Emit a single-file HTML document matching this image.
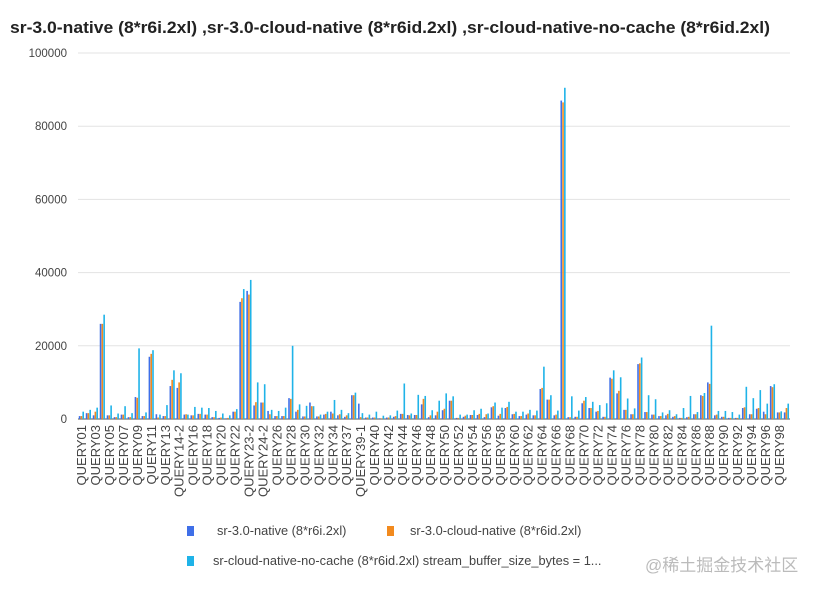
<!DOCTYPE html>
<html><head><meta charset="utf-8">
<style>
html,body{margin:0;padding:0;background:#fff;}
body{width:815px;height:592px;overflow:hidden;font-family:"Liberation Sans","Noto Sans CJK SC",sans-serif;}
</style></head>
<body>
<svg id="chart" width="815" height="592" xmlns="http://www.w3.org/2000/svg" font-family="Liberation Sans, Noto Sans CJK SC, sans-serif">
<text x="10" y="33" font-size="16.5" font-weight="bold" fill="#222" textLength="760" lengthAdjust="spacingAndGlyphs">sr-3.0-native (8*r6i.2xl) ,sr-3.0-cloud-native (8*r6id.2xl) ,sr-cloud-native-no-cache (8*r6id.2xl)</text>
<g id="grid"></g><g id="bars"></g><g id="xlabels"></g>
<g>
<rect x="187" y="526" width="7" height="10" fill="#3f6fe8"/>
<text x="217" y="535" font-size="12.8" fill="#444">sr-3.0-native (8*r6i.2xl)</text>
<rect x="387" y="526" width="7" height="10" fill="#f28a1e"/>
<text x="410" y="535" font-size="12.8" fill="#444">sr-3.0-cloud-native (8*r6id.2xl)</text>
<rect x="187" y="556" width="7" height="10" fill="#1fb3e8"/>
<text x="213" y="565" font-size="12.8" fill="#444">sr-cloud-native-no-cache (8*r6id.2xl) stream_buffer_size_bytes = 1...</text>
</g>
<text x="645" y="571" font-size="17" fill="#bbb">@稀土掘金技术社区</text>
</svg>
<script>
const categories=["QUERY01","QUERY02","QUERY03","QUERY04","QUERY05","QUERY06","QUERY07","QUERY08","QUERY09","QUERY10","QUERY11","QUERY12","QUERY13","QUERY14-1","QUERY14-2","QUERY15","QUERY16","QUERY17","QUERY18","QUERY19","QUERY20","QUERY21","QUERY22","QUERY23-1","QUERY23-2","QUERY24-1","QUERY24-2","QUERY25","QUERY26","QUERY27","QUERY28","QUERY29","QUERY30","QUERY31","QUERY32","QUERY33","QUERY34","QUERY36","QUERY37","QUERY38","QUERY39-1","QUERY39-2","QUERY40","QUERY41","QUERY42","QUERY43","QUERY44","QUERY45","QUERY46","QUERY47","QUERY48","QUERY49","QUERY50","QUERY51","QUERY52","QUERY53","QUERY54","QUERY55","QUERY56","QUERY57","QUERY58","QUERY59","QUERY60","QUERY61","QUERY62","QUERY63","QUERY64","QUERY65","QUERY66","QUERY67","QUERY68","QUERY69","QUERY70","QUERY71","QUERY72","QUERY73","QUERY74","QUERY75","QUERY76","QUERY77","QUERY78","QUERY79","QUERY80","QUERY81","QUERY82","QUERY83","QUERY84","QUERY85","QUERY86","QUERY87","QUERY88","QUERY89","QUERY90","QUERY91","QUERY92","QUERY93","QUERY94","QUERY95","QUERY96","QUERY97","QUERY98","QUERY99"];
const nativeVals=[800,1600,1000,26000,1000,500,1200,500,6000,800,17000,1300,800,9000,8500,1200,1000,1400,1200,500,300,200,2000,32000,35000,3700,4500,2200,800,800,5700,2000,700,4500,700,1200,2000,1000,600,6500,4200,400,400,200,400,600,1400,1100,1100,4000,500,1000,2400,5000,300,600,1100,1100,500,3200,900,3000,1300,800,1200,1000,8200,5300,1000,87000,500,600,4300,3000,2000,600,11300,7000,2500,1300,15000,1900,1200,800,1000,600,300,500,1300,6500,10000,1000,600,300,300,3000,1300,2800,2000,9000,1800,1800];
const cloudVals=[800,1600,2000,26000,1000,500,1200,500,5800,800,17800,400,800,10700,10000,1300,1000,1400,1200,500,400,300,2000,33000,34000,4600,4500,1300,800,800,5500,2500,700,3500,700,1400,1500,1300,1000,6500,500,400,400,200,400,800,1400,1000,1100,5500,1000,2000,2800,5000,300,900,1100,1400,1300,3500,1400,3300,1400,800,1500,1000,8500,5300,1200,86500,500,600,5000,3000,2200,600,11000,7700,2500,1300,15200,1900,1200,800,1400,800,300,600,1300,6300,9600,1200,600,300,300,3200,1300,3000,1300,8700,1800,3000];
const noCacheVals=[2000,2500,3100,28500,3700,1500,3500,1600,19300,1800,18800,1200,3800,13300,12500,1200,3300,3100,3000,2200,1500,1000,2700,35500,38000,10000,9500,2500,2200,3100,20000,4000,3600,3500,1200,2000,5200,2500,1600,7200,1600,1200,2000,900,1000,2300,9700,1500,6600,6300,2400,5000,7000,6200,1200,1200,2400,2800,1500,4500,3100,4700,2000,2000,2500,2300,14300,6500,2300,90500,6200,2300,6000,4700,3800,4300,13300,11400,5600,2900,16800,6500,5400,1800,2400,1300,3000,6300,1900,7100,25500,2200,2200,1900,1200,8800,5700,7900,4200,9500,2100,4200];
const yTicks=[0,20000,40000,60000,80000,100000];
const NS="http://www.w3.org/2000/svg";
const x0=78,x1=790,y0=419,yTop=53,yMax=100000;
const bw=(x1-x0)/categories.length;
function xScale(i){return x0+i*bw;}
function yScale(v){return y0-(v/yMax)*(y0-yTop);}
const grid=document.getElementById('grid');
yTicks.forEach(t=>{
  const l=document.createElementNS(NS,'line');
  l.setAttribute('x1',x0);l.setAttribute('x2',x1);
  l.setAttribute('y1',yScale(t));l.setAttribute('y2',yScale(t));
  l.setAttribute('stroke',t===0?'#555':'#e3e3e3');l.setAttribute('stroke-width','1');
  
  
  grid.appendChild(l);
  const tx=document.createElementNS(NS,'text');
  tx.setAttribute('x',67);tx.setAttribute('y',yScale(t)+4);
  tx.setAttribute('text-anchor','end');tx.setAttribute('font-size','11.5');tx.setAttribute('fill','#444');
  tx.textContent=t;
  
  
  grid.appendChild(tx);
});
const bars=document.getElementById('bars');
const series=[[nativeVals,'#3f6fe8','native'],[cloudVals,'#f28a1e','cloud-native'],[noCacheVals,'#1fb3e8','no-cache']];
categories.forEach((c,i)=>{
  series.forEach((s,k)=>{
    const v=s[0][i];
    const r=document.createElementNS(NS,'rect');
    r.setAttribute('x',xScale(i)+0.8+k*1.8);
    r.setAttribute('width',1.6);
    r.setAttribute('y',yScale(v));
    r.setAttribute('height',y0-yScale(v));
    r.setAttribute('fill',s[1]);
    
    
    bars.appendChild(r);
  });
  if(i%2===0){
    const t=document.createElementNS(NS,'text');
    const cx=xScale(i)+bw/2+4.5;
    t.setAttribute('transform','translate('+cx+',425) rotate(-90)');
    t.setAttribute('text-anchor','end');t.setAttribute('font-size','13');t.setAttribute('fill','#444');
    t.textContent=c;
    
    
    document.getElementById('xlabels').appendChild(t);
  }
});
</script>
</body></html>
